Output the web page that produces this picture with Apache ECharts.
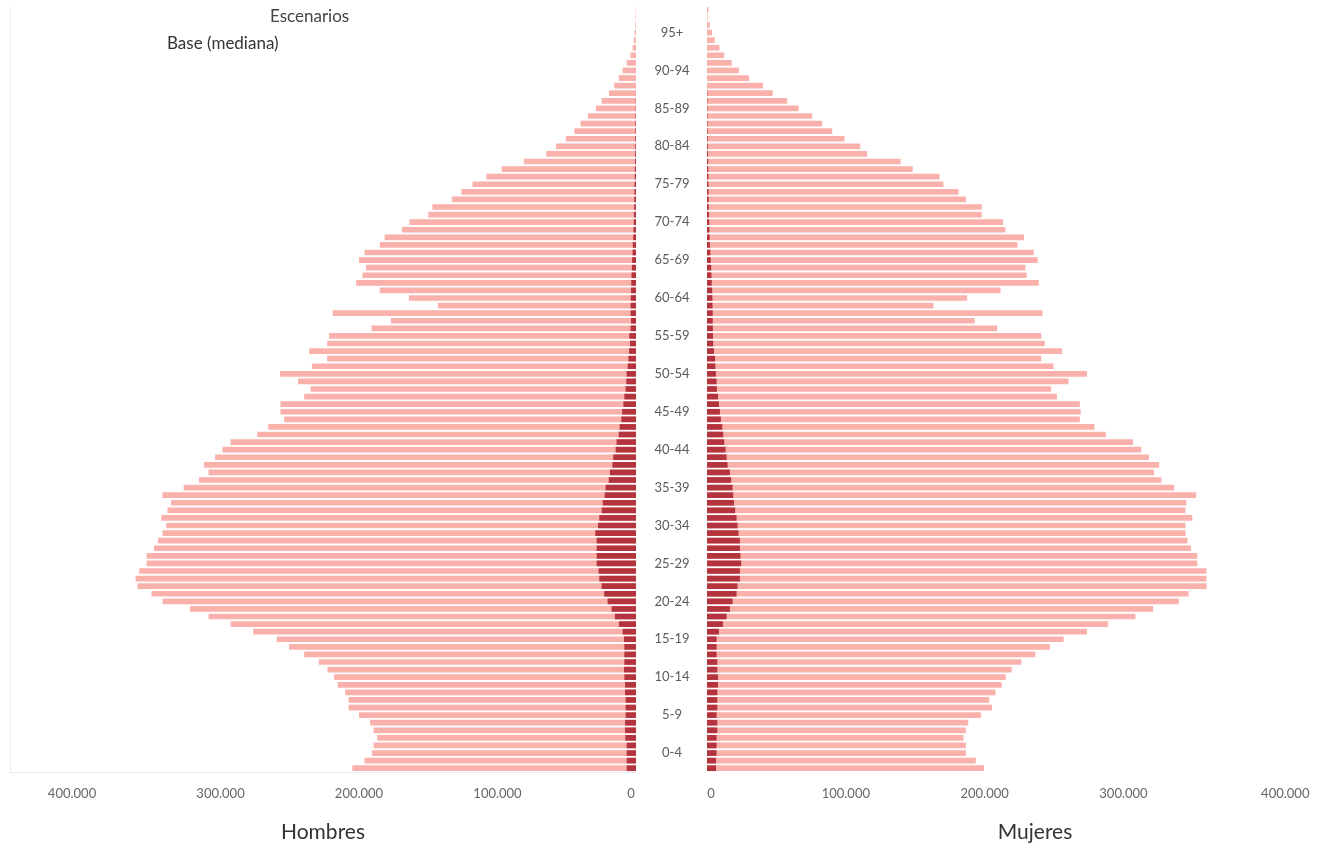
<!DOCTYPE html>
<html>
<head>
<meta charset="utf-8">
<script src="https://cdn.jsdelivr.net/npm/echarts@6/dist/echarts.min.js"></script>
<style>
html,body{margin:0;padding:0;background:#fff;}
#chart{width:1319px;height:844px;}
</style>
</head>
<body>
<div id="chart"></div>
<script>
// Ages 0..100 (single years)
const ages = Array.from({length: 101}, (_, i) => String(i));
// Age-group tick labels (shown at the middle year of each group)
const groupLabels = ['0-4','5-9','10-14','15-19','20-24','25-29','30-34','35-39','40-44','45-49',
  '50-54','55-59','60-64','65-69','70-74','75-79','80-84','85-89','90-94','95+'];

// Values in thousands of persons, ages 0..100
const menTotal = [
  204.8,196,190.7,189.5,186.9,189.5,192,200,207.5,207.5,
  210,215.4,218,222.8,229,239.6,250.5,259.4,276.4,292.7,
  308.6,322,341.9,349.8,359.9,361.3,358.7,353.4,353.4,348,
  345.1,341.9,339.2,342.8,338.3,335.7,341.9,326.6,315.6,308.6,
  312,303.9,298.6,292.7,273.5,265.5,254,256.7,256.7,239.6,
  235,244,257,234,223,236,223,221.6,191,177,
  219,143,164,185,202,197.5,195,200,196,185,
  181.5,169,163.6,150,147,133,126,118,108,97,
  81,64.8,57.8,50.7,44.5,40,34.8,29,24.8,19.5,
  15.7,12.5,9.7,6.7,4.0,2.4,1.5,1.0,0.5,0.3,0.3
];
const menBase = [
  6.7,6.7,6.7,6.7,7.7,7.9,7.9,7.5,7.5,7.5,
  7.9,7.9,8.4,8.7,8.4,8.4,8.4,8.7,9.6,12.3,
  15.2,17.6,20.5,23,24.8,26.5,27,28.4,28.4,28.4,
  28.4,29.4,27.4,26.5,24.8,24,22.6,22,19.7,18.8,
  17,16.4,14.7,14,12.5,11.8,10.6,10,9.1,8.4,
  7.5,7,6.7,6,5.5,5,4.3,4.8,3.9,3.6,
  3.9,3.9,3.8,3.6,3.4,3.2,3.0,2.8,2.5,2.3,
  2.0,1.8,1.6,1.4,1.3,1.2,1.1,1.0,0.9,0.8,
  0.7,0.6,0.5,0.5,0.4,0.4,0.3,0.2,0.2,0.1,
  0,0,0,0,0,0,0,0,0,0,0
];
const womenTotal = [
  199.6,193.6,186.5,186.5,184.8,186.5,188.2,197.3,205.3,203.3,
  207.8,212.3,215.2,219.5,226.5,236.5,247,256.9,273.7,289,
  308.6,321.4,339.9,346.9,359.8,359.8,359.8,353.2,353.2,348.7,
  346.1,344.7,344.7,349.6,344.7,345.3,352.4,336.5,327.4,322,
  325.7,318.3,312.9,306.9,287.3,279.1,268.6,269.2,268.6,252.1,
  247.9,260.4,273.7,249.6,240.8,255.8,243.3,240.8,209,192.8,
  241.7,163.2,187.4,211.5,239,230.3,229.4,238.2,235.4,223.7,
  228.3,215,213.3,197.9,197.9,186.5,181.2,170.3,167.5,148.2,
  139.4,115.3,110.4,99,90.2,82.9,75.8,66,57.8,47.3,
  40.3,30.3,23,17.8,12.4,9,5.6,3.6,2,0.5,1.0
];
const womenBase = [
  6.5,6.5,6.9,6.9,6.9,7.4,7.4,6.9,7.4,7.4,
  7.4,7.9,7.9,7.4,7.4,6.9,6.9,6.9,8.6,11.5,
  14.1,16.5,18.4,21.3,22,23.7,23.7,24.6,24.1,23.7,
  23.7,22.7,22,21.3,20.3,19.4,18.9,18.4,17.4,16.5,
  14.8,14.1,13.4,12.4,11.7,11,10,9.3,8.6,7.9,
  7.1,6.9,6.4,6.0,5.8,5.0,4.5,4.3,4.2,4.1,
  4.1,4.0,3.9,3.7,3.4,3.2,3.0,2.7,2.4,2.1,
  1.9,1.7,1.6,1.4,1.3,1.2,1.1,1.0,1.0,0.9,
  0.8,0.7,0.6,0.5,0.5,0.4,0.3,0.3,0.3,0.3,
  0,0,0,0,0,0,0,0,0,0,0
];
const xTicks = [0, 100000, 200000, 300000, 400000];

const toPersons = arr => arr.map(v => Math.round(v * 1000));
const fmt = v => String(v).replace(/\B(?=(\d{3})+(?!\d))/g, '.');
// Left axis: "0" label sits a little left of the zero line, outer label a bit further out
const leftLabel = v => {
  if (xTicks.indexOf(v) < 0) return '';
  if (v === 0) return '{z|0}';
  if (v === 400000) return '{e|' + fmt(v) + '}';
  return fmt(v);
};
const rightLabel = v => {
  if (xTicks.indexOf(v) < 0) return '';
  if (v === 0) return '{z|0}';
  if (v === 400000) return '{e|' + fmt(v) + '}';
  return fmt(v);
};

const LIGHT = '#FAB0AB';
const DARK = '#B3343C';
const FONT = 'Lato';
const lblBase = {color: '#666', fontSize: 13, fontFamily: FONT};

const chart = echarts.init(document.getElementById('chart'), null, {renderer: 'canvas'});
const option = {
  animation: false,
  backgroundColor: '#fff',
  textStyle: {fontFamily: FONT},
  grid: [
    {left: 10, width: 626, top: 6, height: 766, containLabel: false},
    {left: 707, right: 0, top: 6, height: 766, containLabel: false}
  ],
  xAxis: [
    {type: 'value', gridIndex: 0, inverse: true, min: 0, max: 452000, interval: 100000,
     axisLine: {show: true, lineStyle: {color: '#ececec', width: 1}},
     axisTick: {show: false}, splitLine: {show: false},
     axisLabel: Object.assign({formatter: leftLabel, margin: 15,
       rich: {z: Object.assign({padding: [0, 10, 0, 0]}, lblBase),
              e: Object.assign({padding: [0, 20, 0, 0]}, lblBase)}}, lblBase)},
    {type: 'value', gridIndex: 1, min: 0, max: 438700, interval: 100000,
     axisLine: {show: false}, axisTick: {show: false}, splitLine: {show: false},
     axisLabel: Object.assign({formatter: rightLabel, margin: 15,
       rich: {z: Object.assign({padding: [0, 0, 0, 8]}, lblBase),
              e: Object.assign({padding: [0, 0, 0, 46]}, lblBase)}}, lblBase)}
  ],
  yAxis: [
    {type: 'category', gridIndex: 0, data: ages, position: 'right',
     axisLine: {show: false}, axisTick: {show: false},
     axisLabel: {interval: 0, align: 'center', margin: 36, color: '#5a5a5a', fontSize: 13, fontFamily: FONT,
       formatter: (val, idx) => idx % 5 === 2 ? groupLabels[Math.floor(idx / 5)] : ''}},
    {type: 'category', gridIndex: 1, data: ages, show: false},
    {type: 'category', gridIndex: 0, data: ages, position: 'left',
     axisLine: {show: true, lineStyle: {color: '#ececec', width: 1}},
     axisTick: {show: false}, axisLabel: {show: false}}
  ],
  series: [
    {name: 'Hombres', type: 'bar', xAxisIndex: 0, yAxisIndex: 0, data: toPersons(menTotal),
     barWidth: '75%', barGap: '-100%', itemStyle: {color: LIGHT}, silent: true},
    {name: 'Hombres base', type: 'bar', xAxisIndex: 0, yAxisIndex: 0, data: toPersons(menBase),
     barWidth: '75%', barGap: '-100%', itemStyle: {color: DARK}, silent: true},
    {name: 'Mujeres', type: 'bar', xAxisIndex: 1, yAxisIndex: 1, data: toPersons(womenTotal),
     barWidth: '75%', barGap: '-100%', itemStyle: {color: LIGHT}, silent: true},
    {name: 'Mujeres base', type: 'bar', xAxisIndex: 1, yAxisIndex: 1, data: toPersons(womenBase),
     barWidth: '75%', barGap: '-100%', itemStyle: {color: DARK}, silent: true}
  ],
  graphic: [
    {type: 'text', left: 270, top: 8, style: {text: 'Escenarios', font: '17px Lato', fill: '#444'}},
    {type: 'text', left: 167, top: 35, style: {text: 'Base (mediana)', font: '17px Lato', fill: '#333'}},
    {type: 'text', x: 323, y: 832, style: {text: 'Hombres', font: '21px Lato', fill: '#333', textAlign: 'center', textVerticalAlign: 'middle'}},
    {type: 'text', x: 1035, y: 832, style: {text: 'Mujeres', font: '21px Lato', fill: '#333', textAlign: 'center', textVerticalAlign: 'middle'}}
  ]
};
chart.setOption(option);
</script>
</body>
</html>
